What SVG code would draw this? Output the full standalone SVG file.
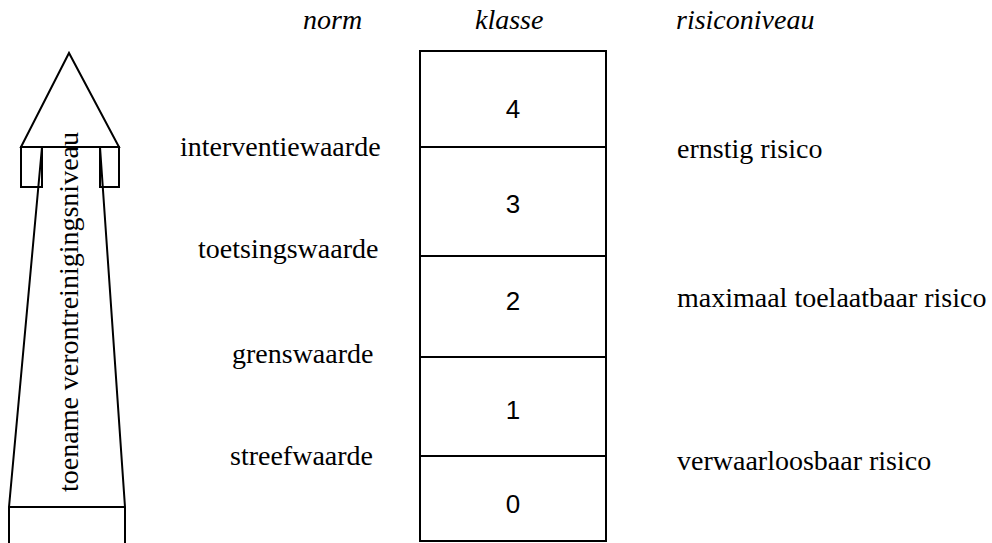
<svg xmlns="http://www.w3.org/2000/svg" width="992" height="543" viewBox="0 0 992 543">
  <style>
    .ln { fill: none; stroke: #000; stroke-width: 2; stroke-linejoin: miter; }
    .lbl { font-family: "Liberation Serif", "Times New Roman", serif; font-size: 28px; fill: #000; }
    .hd { font-family: "Liberation Serif", "Times New Roman", serif; font-size: 28px; font-style: italic; fill: #000; }
    .num { font-family: "Liberation Sans", Arial, sans-serif; font-size: 26px; fill: #000; text-anchor: middle; }
  </style>
  <rect width="992" height="543" fill="#fff"/>

  <!-- column headings -->
  <g id="headings">
    <text class="hd" x="303" y="29">norm</text>
    <text class="hd" x="475" y="29">klasse</text>
    <text class="hd" x="676" y="29">risiconiveau</text>
  </g>

  <!-- rising arrow -->
  <g id="arrow">
    <path class="ln" d="M21,147 L69,53 L119,147 Z"/>
    <rect class="ln" x="21" y="147" width="21" height="40"/>
    <rect class="ln" x="100" y="147" width="19" height="40"/>
    <path class="ln" d="M42,147 L9,507 L9,543"/>
    <path class="ln" d="M100,147 L125,507 L125,543"/>
    <line class="ln" x1="9" y1="507" x2="125" y2="507"/>
    <text class="lbl" transform="translate(78,492) rotate(-90)" font-size="27">toename verontreinigingsniveau</text>
  </g>

  <!-- class column -->
  <g id="klasse">
    <rect class="ln" x="420" y="51" width="186" height="490"/>
    <line class="ln" x1="420" y1="147" x2="606" y2="147"/>
    <line class="ln" x1="420" y1="256" x2="606" y2="256"/>
    <line class="ln" x1="420" y1="357" x2="606" y2="357" stroke-width="2.5"/>
    <line class="ln" x1="420" y1="456" x2="606" y2="456"/>
    <text class="num" x="513" y="118">4</text>
    <text class="num" x="513" y="213">3</text>
    <text class="num" x="513" y="310">2</text>
    <text class="num" x="513" y="419">1</text>
    <text class="num" x="513" y="513">0</text>
  </g>

  <!-- norm values -->
  <g id="normen">
    <text class="lbl" x="180" y="156">interventiewaarde</text>
    <text class="lbl" x="198" y="258">toetsingswaarde</text>
    <text class="lbl" x="232" y="363">grenswaarde</text>
    <text class="lbl" x="230" y="465">streefwaarde</text>
  </g>

  <!-- risk levels -->
  <g id="risico">
    <text class="lbl" x="677" y="158">ernstig risico</text>
    <text class="lbl" x="677" y="307">maximaal toelaatbaar risico</text>
    <text class="lbl" x="677" y="470">verwaarloosbaar risico</text>
  </g>
</svg>
